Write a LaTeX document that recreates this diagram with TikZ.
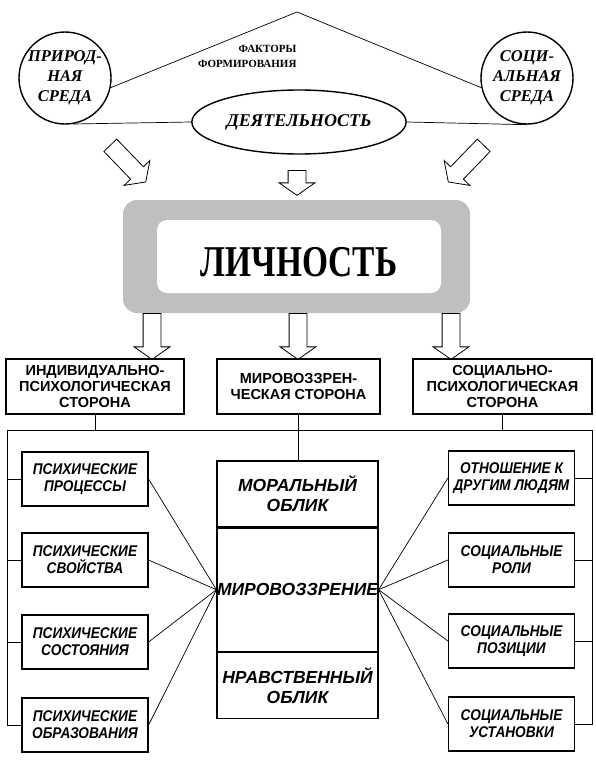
\documentclass[tikz,border=0pt]{standalone}
\usepackage{fontspec}
\setmainfont{Liberation Serif}
\setsansfont{Liberation Sans}
\newfontfamily\narrowsans[FakeStretch=0.88]{Liberation Sans}
\newfontfamily\titlefont[FakeStretch=0.76]{Liberation Serif}
\usetikzlibrary{shapes.geometric,shapes.arrows}

\begin{document}
\begin{tikzpicture}[x=1pt,y=-1pt,
    thin line/.style={line width=0.7pt},
    envcircle/.style={draw,circle,line width=1.4pt,minimum size=92pt,inner sep=0,align=center,font=\bfseries\itshape\fontsize{16.5}{20}\selectfont},
    sidebox/.style={draw,line width=1.2pt,minimum height=55pt,inner sep=0,align=center,font=\sffamily\bfseries\fontsize{14.5}{16}\selectfont},
    itembox/.style={draw,line width=1.2pt,minimum width=126pt,minimum height=54pt,inner sep=0,align=center,font=\narrowsans\bfseries\itshape\fontsize{15.5}{17}\selectfont},
    corebox/.style={draw,line width=1.2pt,minimum width=161pt,inner sep=0,align=center,font=\sffamily\bfseries\itshape\fontsize{17.5}{20}\selectfont},
    hollowarrow/.style={single arrow,draw,fill=white,line width=0.8pt,inner xsep=0pt,inner ysep=8.5pt,single arrow head extend=9pt,single arrow tip angle=110,anchor=tail}]
    \useasboundingbox (0,0) rectangle (595,760);

    \coordinate (apex) at (297,12);
    \node[envcircle] (nature) at (65,78) {ПРИРОД-\\НАЯ\\СРЕДА};
    \node[envcircle] (society) at (527,78) {СОЦИ-\\АЛЬНАЯ\\СРЕДА};
    \node[draw,ellipse,line width=1.4pt,minimum width=188pt,minimum height=64pt,font=\bfseries\itshape\fontsize{18}{20}\selectfont] (activity) at (299,122) {ДЕЯТЕЛЬНОСТЬ};
    \node[anchor=east,align=right,font=\bfseries\fontsize{11}{15}\selectfont] (factors) at (300,56) {ФАКТОРЫ\\ФОРМИРОВАНИЯ};
    \draw[thin line] (nature.-12) -- (apex) -- (society.192);
    \draw[thin line] (nature.-80) -- (activity.west);
    \draw[thin line] (activity.east) -- (society.south);

    \node[hollowarrow,rotate=-46,minimum height=51pt] (arrnature) at (110,145) {};
    \node[hollowarrow,rotate=-90,minimum height=25pt] (arractivity) at (297,170) {};
    \node[hollowarrow,rotate=-134,minimum height=51pt] (arrsociety) at (484,145) {};

    \node[fill=black!25,rounded corners=14pt,minimum width=347pt,minimum height=113pt] (personframe) at (296.5,256.5) {};
    \node[fill=white,rounded corners=10pt,minimum width=284pt,minimum height=73pt,text height=40pt,text depth=0pt,font=\titlefont\bfseries\fontsize{44}{44}\selectfont] (person) at (299,256.5) {ЛИЧНОСТЬ};

    \node[hollowarrow,rotate=-90,minimum height=46pt] (arrind) at (152,313) {};
    \node[hollowarrow,rotate=-90,minimum height=46pt] (arrworld) at (298,313) {};
    \node[hollowarrow,rotate=-90,minimum height=46pt] (arrsoc) at (451,313) {};

    \node[sidebox,minimum width=178pt] (ind) at (95,386.5) {ИНДИВИДУАЛЬНО-\\ПСИХОЛОГИЧЕСКАЯ\\СТОРОНА};
    \node[sidebox,minimum width=163pt] (world) at (298.5,386.5) {МИРОВОЗЗРЕН-\\ЧЕСКАЯ СТОРОНА};
    \node[sidebox,minimum width=179pt] (soc) at (502.5,386.5) {СОЦИАЛЬНО-\\ПСИХОЛОГИЧЕСКАЯ\\СТОРОНА};

    \coordinate (busleft) at (7,430);
    \coordinate (busright) at (592,430);
    \draw[thin line] (busleft) -- (busright);
    \draw[thin line] (ind.south) -- (ind.south |- busleft);
    \draw[thin line] (soc.south) -- (soc.south |- busleft);

    \node[corebox,minimum height=66pt] (moral) at (297.5,494) {МОРАЛЬНЫЙ\\ОБЛИК};
    \node[corebox,minimum height=123pt,anchor=north] (outlook) at (moral.south) {МИРОВОЗЗРЕНИЕ};
    \node[corebox,minimum height=66pt,anchor=north] (ethics) at (outlook.south) {НРАВСТВЕННЫЙ\\ОБЛИК};
    \draw[thin line] (world.south) -- (world.south |- moral.north);

    \node[itembox] (proc) at (85,479) {ПСИХИЧЕСКИЕ\\ПРОЦЕССЫ};
    \node[itembox] (prop) at (85,560) {ПСИХИЧЕСКИЕ\\СВОЙСТВА};
    \node[itembox] (state) at (85,642) {ПСИХИЧЕСКИЕ\\СОСТОЯНИЯ};
    \node[itembox] (form) at (85,725) {ПСИХИЧЕСКИЕ\\ОБРАЗОВАНИЯ};
    \node[itembox] (relation) at (511.5,478) {ОТНОШЕНИЕ К\\ДРУГИМ ЛЮДЯМ};
    \node[itembox] (role) at (511.5,560) {СОЦИАЛЬНЫЕ\\РОЛИ};
    \node[itembox] (position) at (511.5,641) {СОЦИАЛЬНЫЕ\\ПОЗИЦИИ};
    \node[itembox] (attitude) at (511.5,724) {СОЦИАЛЬНЫЕ\\УСТАНОВКИ};

    \draw[thin line] (busleft) |- (form.west);
    \draw[thin line] (proc.west) -- (proc.west -| busleft);
    \draw[thin line] (prop.west) -- (prop.west -| busleft);
    \draw[thin line] (state.west) -- (state.west -| busleft);
    \draw[thin line] (busright) |- (attitude.east);
    \draw[thin line] (relation.east) -- (relation.east -| busright);
    \draw[thin line] (role.east) -- (role.east -| busright);
    \draw[thin line] (position.east) -- (position.east -| busright);

    \draw[thin line] (proc.east) -- (outlook.west);
    \draw[thin line] (prop.east) -- (outlook.west);
    \draw[thin line] (state.east) -- (outlook.west);
    \draw[thin line] (form.east) -- (outlook.west);
    \draw[thin line] (relation.west) -- (outlook.east);
    \draw[thin line] (role.west) -- (outlook.east);
    \draw[thin line] (position.west) -- (outlook.east);
    \draw[thin line] (attitude.west) -- (outlook.east);
\end{tikzpicture}
\end{document}
